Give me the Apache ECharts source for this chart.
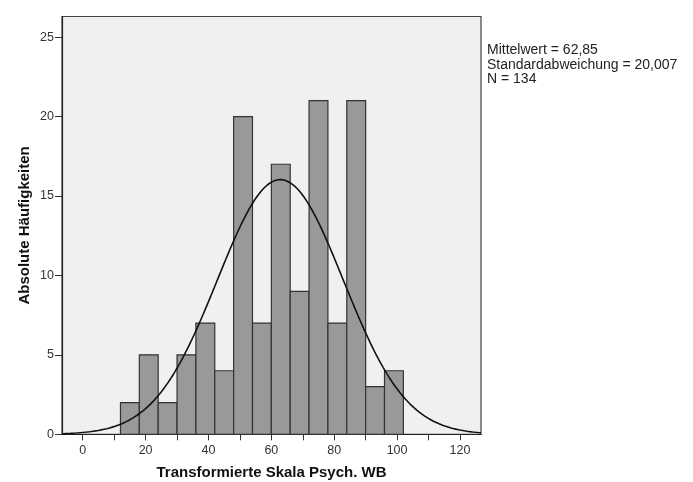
<!DOCTYPE html>
<html>
<head>
<meta charset="utf-8">
<script src="https://cdn.jsdelivr.net/npm/echarts@6/dist/echarts.min.js"></script>
<style>
  html, body { margin: 0; padding: 0; background: #ffffff; }
  #chart { width: 693px; height: 482px; }
</style>
</head>
<body>
<div id="chart"></div>
<script>
// Histogram bins (lower edges, width 6) and their absolute frequencies
const binStarts = [12, 18, 24, 30, 36, 42, 48, 54, 60, 66, 72, 78, 84, 90, 96];
const binWidth = 6;
const counts = [2, 5, 2, 5, 7, 4, 20, 7, 17, 9, 21, 7, 21, 3, 4];

// Summary statistics shown beside the plot
const meanValue = 62.85;
const sdValue = 20.007;
const nValue = 134;
const statLines = ['Mittelwert = 62,85', 'Standardabweichung = 20,007', 'N = 134'];

// Axis tick positions
const xLabelTicks = [0, 20, 40, 60, 80, 100, 120];
const xMinorTicks = [0, 10, 20, 30, 40, 50, 60, 70, 80, 90, 100, 110, 120];
const yTicks = [0, 5, 10, 15, 20, 25];

const xMin = -6.6, xMax = 126.7, yMax = 26.3;

// Bars: [start, end, count]
const barData = binStarts.map((s, i) => [s, s + binWidth, counts[i]]);

// Fitted normal curve scaled to frequency (N * bin width * density)
const curveData = [];
const steps = 300;
for (let k = 0; k <= steps; k++) {
  const x = xMin + (xMax - xMin) * k / steps;
  const z = (x - meanValue) / sdValue;
  const y = nValue * binWidth * Math.exp(-0.5 * z * z) / (sdValue * Math.sqrt(2 * Math.PI));
  curveData.push([x, y]);
}

const chart = echarts.init(document.getElementById('chart'), null, { renderer: 'canvas' });
const tickFont = { fontFamily: '"Liberation Sans", Arial, sans-serif', fontSize: 12.5, color: '#333' };
const titleFont = { fontFamily: '"Liberation Sans", Arial, sans-serif', fontSize: 15, fontWeight: 'bold', color: '#111' };

chart.setOption({
  animation: false,
  grid: {
    left: 62, right: 212, top: 16.5, bottom: 47.7,
    containLabel: false, outerBoundsMode: 'none',
    show: true, backgroundColor: '#f0f0f0', borderColor: '#444', borderWidth: 1.2
  },
  xAxis: {
    type: 'value', min: xMin, max: xMax,
    name: 'Transformierte Skala Psych. WB', nameLocation: 'middle', nameGap: 31,
    nameMoveOverlap: false,
    nameTextStyle: titleFont,
    axisLine: { show: true, onZero: false, lineStyle: { color: '#222', width: 1.2 } },
    axisTick: { show: true, inside: false, length: 6, customValues: xMinorTicks, lineStyle: { color: '#333' } },
    axisLabel: Object.assign({ margin: 10, customValues: xLabelTicks }, tickFont),
    splitLine: { show: false }
  },
  yAxis: {
    type: 'value', min: 0, max: yMax,
    name: 'Absolute Häufigkeiten', nameLocation: 'middle', nameGap: 30,
    nameMoveOverlap: false,
    nameTextStyle: titleFont,
    axisLine: { show: true, onZero: false, lineStyle: { color: '#222', width: 1.2 } },
    axisTick: { show: true, inside: false, length: 7, customValues: yTicks, lineStyle: { color: '#333' } },
    axisLabel: Object.assign({ margin: 8, customValues: yTicks }, tickFont),
    splitLine: { show: false }
  },
  series: [
    {
      type: 'custom',
      data: barData,
      encode: { x: [0, 1], y: 2 },
      renderItem: function (params, api) {
        const top = api.coord([api.value(0), api.value(2)]);
        const base = api.coord([api.value(1), 0]);
        return {
          type: 'rect',
          shape: { x: top[0], y: top[1], width: base[0] - top[0], height: base[1] - top[1] },
          style: { fill: '#999999', stroke: '#333333', lineWidth: 1.2 }
        };
      },
      z: 2
    },
    {
      type: 'line',
      data: curveData,
      showSymbol: false,
      symbol: 'none',
      lineStyle: { color: '#111', width: 1.6 },
      z: 3
    }
  ],
  graphic: [
    {
      type: 'text', left: 487, top: 43,
      style: {
        text: statLines.join('\n'),
        font: '14px "Liberation Sans", Arial, sans-serif',
        lineHeight: 14.5,
        fill: '#222'
      }
    }
  ]
});
</script>
</body>
</html>
